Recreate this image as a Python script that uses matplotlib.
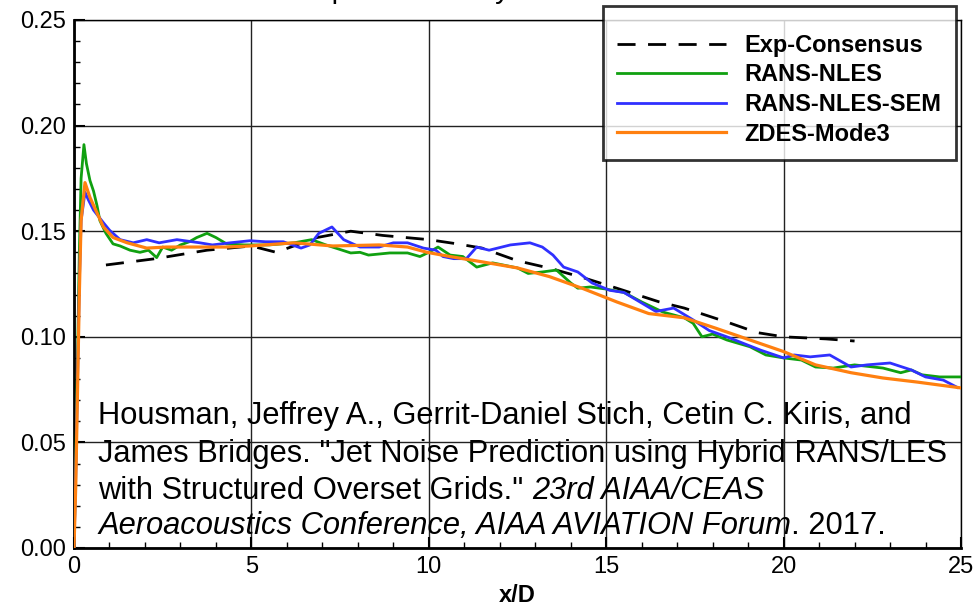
import matplotlib
matplotlib.use("Agg")
import matplotlib.pyplot as plt
from matplotlib.ticker import MultipleLocator

plt.rcParams['font.family'] = ['Liberation Sans', 'DejaVu Sans']

exp_x = [0.9, 2.3, 3.75, 5.0, 5.7, 6.85, 7.8, 8.7, 10.0, 10.8, 11.5, 12.5, 13.4, 14.35,
         15.3, 16.5, 17.2, 18.4, 19.25, 20.0, 21.2, 22.0]
exp_y = [0.134, 0.137, 0.141, 0.143, 0.140, 0.147, 0.150, 0.148, 0.146, 0.144, 0.142,
         0.136, 0.1325, 0.128, 0.123, 0.1165, 0.1136, 0.107, 0.102, 0.100, 0.099, 0.098]

nles_x = [0, 0.05, 0.1, 0.15, 0.2, 0.28, 0.35, 0.45, 0.55, 0.65, 0.73, 0.9, 1.1, 1.3, 1.58,
          1.86, 2.1, 2.33, 2.5, 2.75, 3.0, 3.25, 3.46, 3.75, 4.0, 4.3, 4.8, 5.5, 6.2, 6.7,
          7.1, 7.8, 8.06, 8.3, 8.9, 9.4, 9.75, 10.0, 10.26, 10.6, 10.96, 11.35, 11.8, 12.5,
          12.8, 13.2, 13.6, 14.0, 14.2, 14.55, 15.0, 15.5, 16.0, 16.6, 17.2, 17.45, 17.7,
          18.0, 18.4, 19.05, 19.5, 20.0, 20.5, 20.9, 21.4, 22.0, 22.8, 23.3, 23.6, 23.9,
          24.4, 25.0]
nles_y = [0, 0.04, 0.09, 0.14, 0.175, 0.191, 0.182, 0.174, 0.169, 0.162, 0.155, 0.149,
          0.144, 0.143, 0.141, 0.140, 0.141, 0.1375, 0.1425, 0.141, 0.1435, 0.145, 0.147,
          0.149, 0.147, 0.144, 0.1435, 0.1435, 0.1445, 0.146, 0.1435, 0.1397, 0.140,
          0.1387, 0.1397, 0.1397, 0.138, 0.140, 0.1425, 0.1387, 0.138, 0.133, 0.135,
          0.1326, 0.130, 0.1307, 0.1316, 0.1255, 0.123, 0.1236, 0.1226, 0.121, 0.1165,
          0.1117, 0.109, 0.1064, 0.100, 0.1013, 0.0985, 0.0953, 0.0914, 0.090, 0.089,
          0.0857, 0.0852, 0.0867, 0.0852, 0.083, 0.0843, 0.082, 0.081, 0.081]

sem_x = [0, 0.05, 0.1, 0.15, 0.2, 0.31, 0.4, 0.55, 0.83, 1.0, 1.3, 1.67, 2.05, 2.4, 2.9,
         3.55, 3.9, 4.4, 4.96, 5.4, 5.9, 6.4, 6.65, 6.9, 7.27, 7.6, 8.06, 8.6, 9.0, 9.4,
         9.85, 10.2, 10.4, 10.7, 11.06, 11.35, 11.7, 12.3, 12.85, 13.2, 13.5, 13.8, 14.2,
         14.6, 15.1, 15.5, 15.95, 16.4, 16.9, 17.45, 17.9, 18.4, 18.85, 19.35, 20.0, 20.3,
         20.75, 21.3, 21.9, 22.35, 23.0, 23.6, 24.0, 24.5, 24.9]
sem_y = [0, 0.035, 0.08, 0.125, 0.155, 0.1685, 0.165, 0.160, 0.154, 0.1505, 0.146, 0.1445,
         0.146, 0.1445, 0.146, 0.1445, 0.1435, 0.1445, 0.1455, 0.145, 0.145, 0.142, 0.1435,
         0.149, 0.152, 0.146, 0.1425, 0.1425, 0.1445, 0.1445, 0.142, 0.141, 0.138, 0.137,
         0.137, 0.1425, 0.141, 0.1435, 0.1445, 0.1425, 0.1387, 0.133, 0.1307, 0.1255,
         0.122, 0.121, 0.1165, 0.112, 0.1136, 0.108, 0.103, 0.100, 0.097, 0.0937, 0.090,
         0.0914, 0.0905, 0.0914, 0.0857, 0.0867, 0.0876, 0.0843, 0.081, 0.0795, 0.076]

zdes_x = [0, 0.05, 0.1, 0.15, 0.2, 0.31, 0.45, 0.65, 0.83, 1.1, 1.5, 2.05, 2.6, 3.35, 4.3,
          4.96, 6.2, 7.3, 8.6, 9.4, 9.95, 10.6, 11.5, 12.5, 13.4, 14.35, 15.3, 16.2, 17.2,
          18.1, 19.05, 20.0, 20.9, 21.9, 22.8, 23.75, 25.0]
zdes_y = [0, 0.03, 0.075, 0.12, 0.155, 0.173, 0.166, 0.1586, 0.152, 0.147, 0.1445, 0.142,
          0.1425, 0.1425, 0.1425, 0.143, 0.1445, 0.143, 0.1435, 0.1425, 0.140, 0.138,
          0.1355, 0.1326, 0.1285, 0.1228, 0.1165, 0.111, 0.109, 0.104, 0.0985, 0.093,
          0.0867, 0.083, 0.0805, 0.0786, 0.0758]

labels = ["Exp-Consensus", "RANS-NLES", "RANS-NLES-SEM", "ZDES-Mode3"]
x_ticks = [0, 5, 10, 15, 20, 25]
y_ticks = [0.00, 0.05, 0.10, 0.15, 0.20, 0.25]

citation = ("Housman, Jeffrey A., Gerrit-Daniel Stich, Cetin C. Kiris, and\n"
            "James Bridges. \"Jet Noise Prediction using Hybrid RANS/LES\n"
            "with Structured Overset Grids.\" ")
cite_italic3 = "23rd AIAA/CEAS"
cite_italic4 = "Aeroacoustics Conference, AIAA AVIATION Forum"
cite_end = ". 2017."

FS_CITE = 22.2

fig = plt.figure(figsize=(9.76, 6.08), dpi=100)
ax = fig.add_axes([74/976, 60/608, 887/976, 528/608])

ax.plot(exp_x, exp_y, color='black', lw=2, dashes=(6.5, 4.5), label=labels[0], zorder=3)
ax.plot(nles_x, nles_y, color='#10a010', lw=2, label=labels[1], zorder=4)
ax.plot(sem_x, sem_y, color='#3030ff', lw=2, label=labels[2], zorder=5)
ax.plot(zdes_x, zdes_y, color='#ff8010', lw=2.3, label=labels[3], zorder=6)

ax.set_xlim(0, 25)
ax.set_ylim(0, 0.25)
ax.set_xticks(x_ticks)
ax.set_yticks(y_ticks)
ax.set_xticklabels([str(v) for v in x_ticks])
ax.set_yticklabels([f"{v:.2f}" for v in y_ticks])
ax.xaxis.set_minor_locator(MultipleLocator(1))
ax.yaxis.set_minor_locator(MultipleLocator(0.01))
ax.tick_params(which='major', direction='in', length=8, width=1.5, labelsize=17,
               top=False, right=False, pad=6)
ax.tick_params(which='minor', direction='in', length=4, width=1, top=False, right=False)
ax.grid(True, which='major', color='#222222', lw=1)
for side in ['left', 'bottom']:
    ax.spines[side].set_linewidth(2)
for side in ['top', 'right']:
    ax.spines[side].set_linewidth(1)
ax.set_xlabel("x/D", fontsize=17, fontweight='bold', labelpad=4)

# citation block
txt_main = ax.text(0.68, 0.0696, citation, fontsize=FS_CITE, va='top', ha='left',
                   linespacing=1.33, zorder=2)
t1 = ax.text(0.68, 0.0, "with Structured Overset Grids.\" ", fontsize=FS_CITE, alpha=0)
fig.canvas.draw()
r = fig.canvas.get_renderer()
bb = t1.get_window_extent(r)
t1.remove()
bbm = txt_main.get_window_extent(r)
line_h = bbm.height / 3.0
x0_disp = ax.transData.transform((0.68, 0))[0]
inv = fig.transFigure.inverted()
fig.text(*inv.transform((x0_disp + bb.width, bbm.y0)), cite_italic3,
         fontsize=FS_CITE, style='italic', va='bottom', ha='left')
t4 = fig.text(*inv.transform((x0_disp, bbm.y0 - line_h)), cite_italic4,
              fontsize=FS_CITE, style='italic', va='bottom', ha='left')
fig.canvas.draw()
bb4 = t4.get_window_extent(r)
fig.text(*inv.transform((bb4.x1, bbm.y0 - line_h)), cite_end, fontsize=FS_CITE,
         va='bottom', ha='left')

leg = fig.legend(loc='upper left', bbox_to_anchor=(603/976, 1 - 6/608),
                 prop={'weight': 'bold', 'size': 17}, frameon=True, fancybox=False,
                 handlelength=4.6, handletextpad=0.8, labelspacing=0.28,
                 borderpad=0.6, borderaxespad=0, title=" ", title_fontsize=6)
leg.get_frame().set_edgecolor('black')
leg.get_frame().set_linewidth(2)

# clipped title at the very top edge (only descenders visible in the reference)
fig.text(309/976, 1.0 + 2/608, "Lipline Intensity", fontsize=21, va='baseline', ha='left')

fig.savefig("out.png", dpi=100)
